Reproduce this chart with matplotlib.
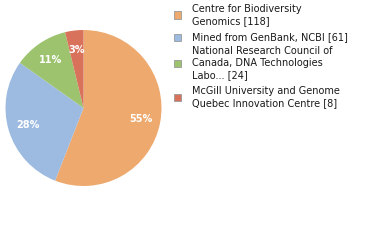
import matplotlib
matplotlib.use("Agg")
import matplotlib.pyplot as plt
from matplotlib.patches import Rectangle

labels = ["Centre for Biodiversity\nGenomics [118]",
          "Mined from GenBank, NCBI [61]",
          "National Research Council of\nCanada, DNA Technologies\nLabo... [24]",
          "McGill University and Genome\nQuebec Innovation Centre [8]"]
values = [118, 61, 24, 8]
pct_labels = ["55%", "28%", "11%", "3%"]
colors = ["#EDA96E", "#9DBAE0", "#9DC36F", "#D9725B"]

W, H = 380, 240
fig = plt.figure(figsize=(W / 100, H / 100), dpi=100)
fig.patch.set_facecolor("white")

cx, cy, r = 83.5, 108, 78
ax = fig.add_axes([(cx - r) / W, (H - cy - r) / H, 2 * r / W, 2 * r / H])
wedges, texts = ax.pie(values, colors=colors, startangle=90, counterclock=False,
                       labels=pct_labels, labeldistance=0.75, radius=1,
                       wedgeprops=dict(linewidth=0),
                       textprops=dict(color="white", fontsize=7, fontweight="bold",
                                      ha="center", va="center"))
ax.set_xlim(-1, 1)
ax.set_ylim(-1, 1)
ax.set_aspect("equal")
ax.axis("off")

# legend
entry_centers = [15, 37, 63, 97]
for lab, col, yc in zip(labels, colors, entry_centers):
    sq = Rectangle((174 / W, (H - yc - 3.5) / H), 7 / W, 7 / H,
                   transform=fig.transFigure, facecolor=col,
                   edgecolor="#999999", linewidth=0.6)
    fig.patches.append(sq)
    fig.text(192 / W, (H - yc) / H, lab, fontsize=7, color="#1a1a1a",
             ha="left", va="center", linespacing=1.25, family="DejaVu Sans")

fig.savefig("out.png", dpi=100)
